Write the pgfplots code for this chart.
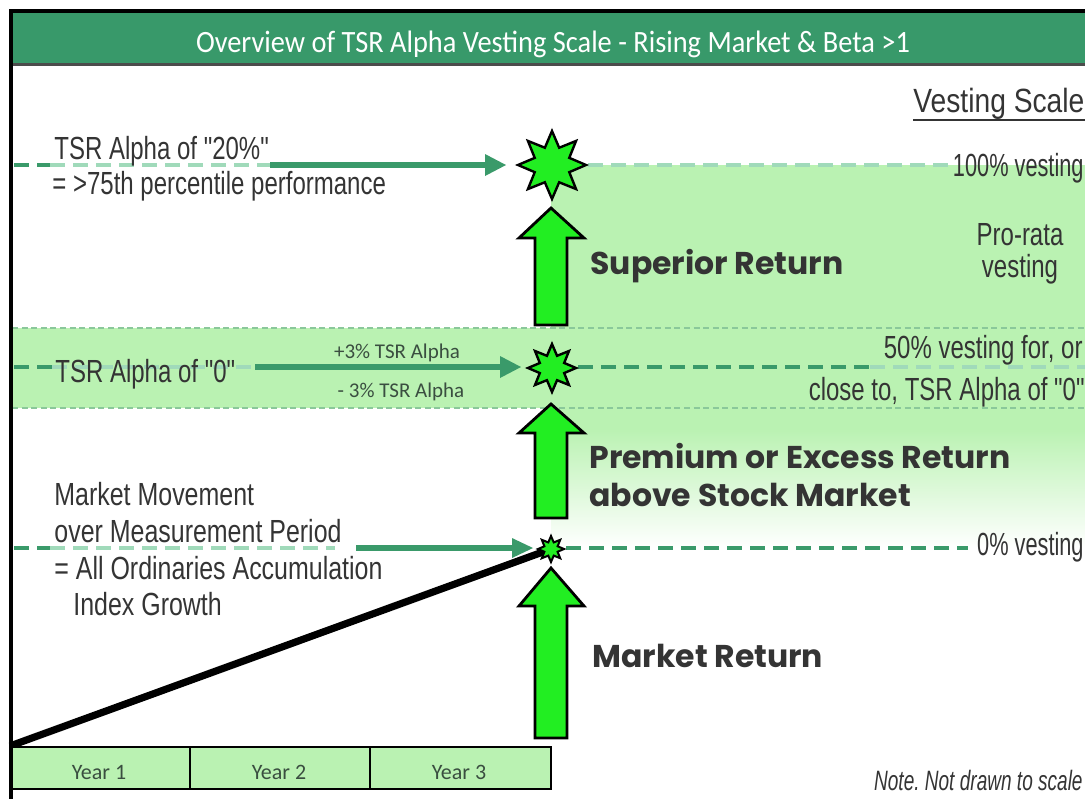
\documentclass[border=0pt]{standalone}
\usepackage{pgfplots}
\pgfplotsset{compat=1.18}
\usepackage{fontspec}
\setmainfont{Carlito}
\newfontfamily\titlefont[FakeStretch=0.915]{Carlito}
\newfontfamily\comic[FakeStretch=0.75]{Liberation Sans}
\newfontfamily\comicm[FakeStretch=0.78]{Liberation Sans}
\newfontfamily\comicn[FakeStretch=0.68]{Liberation Sans}
\newfontfamily\comicw[FakeStretch=0.84]{Liberation Sans}
\newfontfamily\comicb{Poppins}
\definecolor{titlegreen}{RGB}{56,153,106}
\definecolor{bandgreen}{RGB}{186,242,178}
\definecolor{arrowgreen}{RGB}{34,238,34}
\definecolor{dashdark}{RGB}{58,154,106}
\definecolor{dashlight}{RGB}{160,218,186}
\definecolor{bandline}{RGB}{138,200,154}
\definecolor{txt}{RGB}{52,52,52}
\definecolor{smalltxt}{RGB}{58,78,64}
\pgfdeclareplotmark{star8}{%
  \pgfpathmoveto{\pgfpointpolar{90}{\pgfplotmarksize}}%
  \pgfpathlineto{\pgfpointpolar{112.5}{0.55\pgfplotmarksize}}%
  \pgfpathlineto{\pgfpointpolar{135}{\pgfplotmarksize}}%
  \pgfpathlineto{\pgfpointpolar{157.5}{0.55\pgfplotmarksize}}%
  \pgfpathlineto{\pgfpointpolar{180}{\pgfplotmarksize}}%
  \pgfpathlineto{\pgfpointpolar{202.5}{0.55\pgfplotmarksize}}%
  \pgfpathlineto{\pgfpointpolar{225}{\pgfplotmarksize}}%
  \pgfpathlineto{\pgfpointpolar{247.5}{0.55\pgfplotmarksize}}%
  \pgfpathlineto{\pgfpointpolar{270}{\pgfplotmarksize}}%
  \pgfpathlineto{\pgfpointpolar{292.5}{0.55\pgfplotmarksize}}%
  \pgfpathlineto{\pgfpointpolar{315}{\pgfplotmarksize}}%
  \pgfpathlineto{\pgfpointpolar{337.5}{0.55\pgfplotmarksize}}%
  \pgfpathlineto{\pgfpointpolar{0}{\pgfplotmarksize}}%
  \pgfpathlineto{\pgfpointpolar{22.5}{0.55\pgfplotmarksize}}%
  \pgfpathlineto{\pgfpointpolar{45}{\pgfplotmarksize}}%
  \pgfpathlineto{\pgfpointpolar{67.5}{0.55\pgfplotmarksize}}%
  \pgfpathclose
  \pgfusepathqfillstroke
}
\newcommand\cs{\comic\fontsize{16}{19}\selectfont\color{txt}}
\newcommand\csm{\comicm\fontsize{16}{19}\selectfont\color{txt}}
\newcommand\csn{\comicn\fontsize{16}{19}\selectfont\color{txt}}
\newcommand\bs{\comicb\bfseries\fontsize{15.75}{19}\selectfont\color{txt}}
\frenchspacing
\begin{document}
\frenchspacing
\begin{tikzpicture}
\useasboundingbox (0,0) rectangle (542.5pt,399.5pt);
\begin{axis}[
  width=542.5pt, height=399.5pt, scale only axis,
  xmin=0, xmax=1085, ymin=0, ymax=799, y dir=reverse,
  hide axis, clip=true,
]
% backgrounds
\addplot[draw=none, fill=bandgreen] coordinates {(551,165)(1085,165)(1085,430)(551,430)} -- cycle;
\addplot[draw=none, top color=bandgreen, bottom color=white] coordinates {(551,429)(1085,429)(1085,548)(551,548)} -- cycle;
\addplot[draw=none, fill=bandgreen] coordinates {(12,328)(1085,328)(1085,408)(12,408)} -- cycle;
% band border lines
\addplot[bandline, line width=0.6pt, dash pattern=on 3pt off 1.8pt] coordinates {(12,328)(1085,328)};
\addplot[bandline, line width=0.6pt, dash pattern=on 3pt off 1.8pt] coordinates {(12,408)(1085,408)};
% title bar
\addplot[draw=none, fill=titlegreen] coordinates {(12,12)(1085,12)(1085,64)(12,64)} -- cycle;
\addplot[black, line width=2pt] coordinates {(9,10.5)(1085,10.5)};
\addplot[black!70, line width=1.3pt] coordinates {(12,64.5)(1085,64.5)};
\addplot[black, line width=2pt] coordinates {(11,9)(11,799)};
% level 100% line
\addplot[dashdark, line width=2pt, dash pattern=on 7.5pt off 4pt] coordinates {(14,165)(50,165)};
\addplot[dashlight, line width=2pt, dash pattern=on 7.5pt off 4pt] coordinates {(50,165)(270,165)};
\addplot[dashdark, line width=3pt] coordinates {(270,165)(487,165)};
\addplot[draw=none, fill=dashdark] coordinates {(485,154)(506,165)(485,176)} -- cycle;
\addplot[dashlight, line width=2pt, dash pattern=on 7.5pt off 4pt] coordinates {(588,165)(955,165)};
% level 50% line
\addplot[dashdark, line width=2pt, dash pattern=on 7.5pt off 4pt] coordinates {(14,367)(52,367)};
\addplot[dashlight, line width=2pt, dash pattern=on 7.5pt off 4pt] coordinates {(52,367)(255,367)};
\addplot[dashdark, line width=3pt] coordinates {(255,367)(502,367)};
\addplot[draw=none, fill=dashdark] coordinates {(500,356)(521,367)(500,378)} -- cycle;
\addplot[dashdark, line width=2pt, dash pattern=on 7.5pt off 4pt] coordinates {(578,367)(870,367)};
\addplot[dashlight, line width=2pt, dash pattern=on 7.5pt off 4pt] coordinates {(870,367)(1085,367)};
% level 0% line
\addplot[dashdark, line width=2pt, dash pattern=on 7.5pt off 4pt] coordinates {(14,548)(50,548)};
\addplot[dashlight, line width=2pt, dash pattern=on 7.5pt off 4pt] coordinates {(50,548)(335,548)};
\addplot[dashdark, line width=3pt] coordinates {(356,548)(516,548)};
\addplot[draw=none, fill=dashdark] coordinates {(512,538)(533,548)(512,558)} -- cycle;
\addplot[dashdark, line width=2pt, dash pattern=on 7.5pt off 4pt] coordinates {(566,548)(968,548)};
% market line
\addplot[black, line width=3.6pt] coordinates {(10,746)(551,549)};
% year boxes
\addplot[fill=bandgreen, draw=black, line width=1.3pt] coordinates {(12,747)(190,747)(190,789)(12,789)} -- cycle;
\addplot[fill=bandgreen, draw=black, line width=1.3pt] coordinates {(190,747)(370,747)(370,789)(190,789)} -- cycle;
\addplot[fill=bandgreen, draw=black, line width=1.3pt] coordinates {(370,747)(551,747)(551,789)(370,789)} -- cycle;
% block arrows
\addplot[fill=arrowgreen, draw=black, line width=1.4pt, line join=miter] coordinates {(551,208)(584,238)(567,238)(567,325)(535,325)(535,238)(519,238)} -- cycle;
\addplot[fill=arrowgreen, draw=black, line width=1.4pt, line join=miter] coordinates {(551,404)(584,433)(567,433)(567,518)(535,518)(535,433)(519,433)} -- cycle;
\addplot[fill=arrowgreen, draw=black, line width=1.4pt, line join=miter] coordinates {(551,568)(584,606)(567,606)(567,738)(535,738)(535,606)(519,606)} -- cycle;
% stars
\addplot[only marks, mark=star8, mark size=17pt, mark options={fill=arrowgreen, draw=black, line width=1.2pt}] coordinates {(552,165)};
\addplot[only marks, mark=star8, mark size=12pt, mark options={fill=arrowgreen, draw=black, line width=1.2pt}] coordinates {(552,368)};
\addplot[only marks, mark=star8, mark size=6.5pt, mark options={fill=arrowgreen, draw=black, line width=1pt}] coordinates {(551,549)};
% underline of Vesting Scale
\addplot[txt, line width=1.1pt] coordinates {(913,120)(1085,120)};
% texts
\node[anchor=base, text=white, inner sep=0pt] at (axis cs:553,52) {\titlefont\fontsize{15.5}{18}\selectfont Overview of TSR Alpha Vesting Scale - Rising Market \& Beta >1};
\node[anchor=base west, inner sep=0pt] at (axis cs:913,112) {\comicw\fontsize{16.8}{20}\selectfont\color{txt}Vesting Scale};
\node[anchor=base west, inner sep=0pt] at (axis cs:54,159) {\cs TSR Alpha of "20\%"};
\node[anchor=base west, inner sep=0pt] at (axis cs:52,194) {\cs = >75th percentile performance};
\node[anchor=base east, inner sep=0pt] at (axis cs:1084,176) {\csn 100\% vesting};
\node[anchor=base, inner sep=0pt] at (axis cs:1020,245) {\cs Pro-rata};
\node[anchor=base, inner sep=0pt] at (axis cs:1020,277) {\cs vesting};
\node[anchor=base west, inner sep=0pt] at (axis cs:590,274) {\bs Superior Return};
\node[anchor=base, inner sep=0pt, text=smalltxt, font=\fontsize{10.5}{12}\selectfont] at (axis cs:397,358) {+3\% TSR Alpha};
\node[anchor=base, inner sep=0pt, text=smalltxt, font=\fontsize{10.5}{12}\selectfont] at (axis cs:401,397) {- 3\% TSR Alpha};
\node[anchor=base west, inner sep=0pt] at (axis cs:55,382) {\cs TSR Alpha of "0"};
\node[anchor=base east, inner sep=0pt] at (axis cs:1083,358) {\cs 50\% vesting for, or};
\node[anchor=base east, inner sep=0pt] at (axis cs:1085,400) {\cs close to, TSR Alpha of "0"};
\node[anchor=base west, inner sep=0pt] at (axis cs:589,468) {\bs Premium or Excess Return};
\node[anchor=base west, inner sep=0pt] at (axis cs:589,506) {\bs above Stock Market};
\node[anchor=base west, inner sep=0pt] at (axis cs:54,505) {\csm Market Movement};
\node[anchor=base west, inner sep=0pt] at (axis cs:54,542) {\csm over Measurement Period};
\node[anchor=base west, inner sep=0pt] at (axis cs:54,579) {\csm = All Ordinaries Accumulation};
\node[anchor=base west, inner sep=0pt] at (axis cs:73,615) {\csm Index Growth};
\node[anchor=base east, inner sep=0pt] at (axis cs:1084,555) {\csn 0\% vesting};
\node[anchor=base west, inner sep=0pt] at (axis cs:592,667) {\bs Market Return};
\node[anchor=base east, inner sep=0pt] at (axis cs:1083,790) {\comicn\itshape\fontsize{14}{16}\selectfont\color{txt}Note. Not drawn to scale};
\node[anchor=base, inner sep=0pt, text=smalltxt, font=\fontsize{11}{13}\selectfont] at (axis cs:99,779) {Year 1};
\node[anchor=base, inner sep=0pt, text=smalltxt, font=\fontsize{11}{13}\selectfont] at (axis cs:279,779) {Year 2};
\node[anchor=base, inner sep=0pt, text=smalltxt, font=\fontsize{11}{13}\selectfont] at (axis cs:459,779) {Year 3};
\end{axis}
\end{tikzpicture}
\end{document}
